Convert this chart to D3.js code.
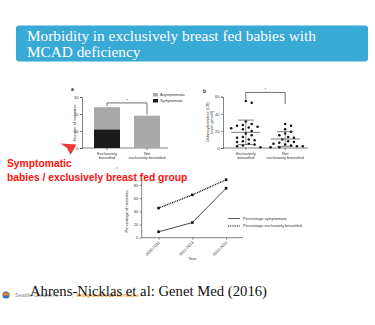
<!DOCTYPE html>
<html>
<head>
<meta charset="utf-8">
<script src="https://cdn.jsdelivr.net/npm/d3@7"></script>
<style>
  html, body { margin: 0; padding: 0; background: #fff; }
  svg { display: block; }
  .tiny { font-family: "Liberation Sans", Arial, sans-serif; font-size: 4px; fill: #333; }
</style>
</head>
<body>
<svg id="slide" width="375" height="325"></svg>
<script>
// Panel a: number of neonates by feeding group
const feedGroups = ["Exclusively breastfed", "Not exclusively breastfed"];
const symptomatic = [11, 0];
const asymptomatic = [13, 19];

// Panel b: C8 levels per neonate
const c8Exclusive = [55, 53, 31, 28, 27, 26, 25, 24, 23, 22, 20, 17, 15, 13, 12, 10, 9, 8, 7, 5, 4, 3, 2, 1];
const c8NotExclusive = [28, 26, 22, 19, 17, 15, 13, 12, 10, 8, 7, 6, 5, 4, 3, 2, 2, 1, 1];

// Panel c: percentages by period
const periods = ["2010-2011", "2012-2013", "2014-2015"];
const pctSymptomatic = [9, 23, 75];
const pctExclusive = [45, 65, 88];

const ticksA = [0, 10, 20, 30];
const ticksB = [0, 20, 40, 60];
const ticksC = [0, 20, 40, 60, 80];

const svg = d3.select("#slide");

// ---------- Header ----------
svg.append("rect").attr("x", 16).attr("y", 25.5).attr("width", 352).attr("height", 36)
  .attr("rx", 3).attr("fill", "#39a9d5");
const title = svg.append("text").attr("font-family", "Liberation Serif, Times New Roman, serif")
  .attr("font-size", 15.3).attr("fill", "#fff");
title.append("tspan").attr("x", 27).attr("y", 41).text("Morbidity in exclusively breast fed babies with");
title.append("tspan").attr("x", 27).attr("y", 57).text("MCAD deficiency");

function splitLabel(g, x, y, lines) {
  const t = g.append("text").attr("class", "tiny").attr("text-anchor", "middle");
  lines.forEach((l, i) => t.append("tspan").attr("x", x).attr("y", y + i * 4.3).text(l));
}
function styleAxis(g) {
  g.selectAll("path, line").attr("stroke", "#333").attr("stroke-width", 0.6);
  g.selectAll("text").attr("class", "tiny");
}

// ---------- Panel a: stacked bars ----------
const gA = svg.append("g");
const yA = d3.scaleLinear().domain([0, 30]).range([148, 97]);
const xA = d3.scaleBand().domain(feedGroups).range([82, 172]).paddingInner(0.35).paddingOuter(0.3);

gA.append("g").attr("transform", "translate(82,0)")
  .call(d3.axisLeft(yA).tickValues(ticksA).tickSize(2).tickPadding(1.5)).call(styleAxis);
gA.append("line").attr("x1", 82).attr("x2", 168).attr("y1", 148).attr("y2", 148)
  .attr("stroke", "#333").attr("stroke-width", 0.6);
feedGroups.forEach(g => gA.append("line").attr("x1", xA(g) + xA.bandwidth() / 2).attr("x2", xA(g) + xA.bandwidth() / 2)
  .attr("y1", 148).attr("y2", 150).attr("stroke", "#333").attr("stroke-width", 0.6));

const stackData = feedGroups.map((g, i) => ({ group: g, Symptomatic: symptomatic[i], Asymptomatic: asymptomatic[i] }));
const stacked = d3.stack().keys(["Symptomatic", "Asymptomatic"])(stackData);
const barColor = { Symptomatic: "#1b1b1b", Asymptomatic: "#a9a9a9" };
gA.selectAll("g.layer").data(stacked).join("g").attr("fill", d => barColor[d.key])
  .selectAll("rect").data(d => d).join("rect")
  .attr("x", d => xA(d.data.group)).attr("width", xA.bandwidth())
  .attr("y", d => yA(d[1])).attr("height", d => yA(d[0]) - yA(d[1]));

splitLabel(gA, xA(feedGroups[0]) + xA.bandwidth() / 2, 155, ["Exclusively", "breastfed"]);
splitLabel(gA, xA(feedGroups[1]) + xA.bandwidth() / 2, 155, ["Not", "exclusively breastfed"]);
gA.append("text").attr("class", "tiny").attr("text-anchor", "middle")
  .attr("transform", `translate(75.5,${yA(15)}) rotate(-90)`).text("Number of neonates");
gA.append("text").attr("x", 71).attr("y", 91).attr("font-family", "Liberation Sans, Arial")
  .attr("font-size", 5).attr("font-weight", "bold").attr("fill", "#222").text("a");

// significance bracket
const totals = feedGroups.map((g, i) => symptomatic[i] + asymptomatic[i]);
const bx1 = xA(feedGroups[0]) + xA.bandwidth() / 2, bx2 = xA(feedGroups[1]) + xA.bandwidth() / 2;
gA.append("path").attr("fill", "none").attr("stroke", "#333").attr("stroke-width", 0.7)
  .attr("d", `M${bx1},${yA(totals[0]) - 1}V${yA(26.5)}H${bx2}V${yA(totals[1]) - 1}`);
gA.append("text").attr("class", "tiny").attr("text-anchor", "middle").attr("x", (bx1 + bx2) / 2).attr("y", yA(27.3)).text("*");

// legend
[["Asymptomatic", 95], ["Symptomatic", 101]].forEach(([k, y]) => {
  gA.append("rect").attr("x", 153).attr("y", y - 2).attr("width", 5).attr("height", 3.5).attr("fill", barColor[k]);
  gA.append("text").attr("class", "tiny").attr("x", 160).attr("y", y + 1).text(k);
});

// ---------- Panel b: scatter with mean and SD ----------
const gB = svg.append("g");
const yB = d3.scaleLinear().domain([0, 60]).range([148, 96.7]);
const xB = d3.scalePoint().domain(feedGroups).range([223, 308]).padding(0.58);

gB.append("g").attr("transform", "translate(223,0)")
  .call(d3.axisLeft(yB).tickValues(ticksB).tickSize(2).tickPadding(1.5)).call(styleAxis);
gB.append("line").attr("x1", 223).attr("x2", 308).attr("y1", 148).attr("y2", 148)
  .attr("stroke", "#333").attr("stroke-width", 0.6);
feedGroups.forEach(g => gB.append("line").attr("x1", xB(g)).attr("x2", xB(g))
  .attr("y1", 148).attr("y2", 150).attr("stroke", "#333").attr("stroke-width", 0.6));

// simple deterministic beeswarm
function swarm(values, cx, r, gap) {
  const placed = [];
  const minD = 2 * r + gap;
  values.slice().sort((a, b) => b - a).forEach(v => {
    const cy = yB(v);
    for (let k = 0; k < 40; k++) {
      const off = (k % 2 ? 1 : -1) * Math.ceil(k / 2) * minD * 0.75;
      const x = cx + off;
      if (placed.every(p => Math.hypot(p.x - x, p.y - cy) >= minD)) { placed.push({ x, y: cy }); break; }
    }
  });
  return placed;
}
const groupsB = [c8Exclusive, c8NotExclusive];
groupsB.forEach((vals, i) => {
  const cx = xB(feedGroups[i]);
  gB.selectAll(null).data(swarm(vals, cx, 1.25, 1.4)).join("circle")
    .attr("cx", d => d.x).attr("cy", d => d.y).attr("r", 1.25).attr("fill", "#111");
  const m = d3.mean(vals), s = d3.deviation(vals);
  gB.append("line").attr("x1", cx - 14.5).attr("x2", cx + 14.5).attr("y1", yB(m)).attr("y2", yB(m))
    .attr("stroke", "#444").attr("stroke-width", 0.7);
  gB.append("line").attr("x1", cx).attr("x2", cx).attr("y1", yB(m + s)).attr("y2", yB(Math.max(0, m - s)))
    .attr("stroke", "#444").attr("stroke-width", 0.6);
  [m + s, Math.max(0, m - s)].forEach(v => gB.append("line").attr("x1", cx - 8).attr("x2", cx + 8)
    .attr("y1", yB(v)).attr("y2", yB(v)).attr("stroke", "#444").attr("stroke-width", 0.7));
});
splitLabel(gB, xB(feedGroups[0]), 155, ["Exclusively", "breastfed"]);
splitLabel(gB, xB(feedGroups[1]), 155, ["Not", "exclusively breastfed"]);
const yl = gB.append("text").attr("class", "tiny").attr("text-anchor", "middle")
  .attr("transform", `translate(209,${yB(30)}) rotate(-90)`);
yl.append("tspan").attr("x", 0).attr("y", 0).text("Octanoylcarnitine (C8)");
yl.append("tspan").attr("x", 0).attr("y", 4.3).text("level (µmol/l)");
gB.append("text").attr("x", 203).attr("y", 93).attr("font-family", "Liberation Sans, Arial")
  .attr("font-size", 5).attr("font-weight", "bold").attr("fill", "#222").text("b");
const cxb1 = xB(feedGroups[0]), cxb2 = xB(feedGroups[1]);
gB.append("path").attr("fill", "none").attr("stroke", "#333").attr("stroke-width", 0.7)
  .attr("d", `M${cxb1},${yB(d3.max(c8Exclusive)) - 2}V${yB(65)}H${cxb2}V${yB(d3.max(c8NotExclusive)) - 20}`);
gB.append("text").attr("class", "tiny").attr("text-anchor", "middle").attr("x", (cxb1 + cxb2) / 2).attr("y", yB(66.5)).text("*");

// ---------- Panel c: trends ----------
const gC = svg.append("g");
const yC = d3.scaleLinear().domain([0, 80]).range([237.7, 185]);
const xC = d3.scalePoint().domain(periods).range([141.7, 243]).padding(0.5);

gC.append("g").attr("transform", "translate(141.7,0)")
  .call(d3.axisLeft(yC).tickValues(ticksC).tickSize(2).tickPadding(1.5)).call(styleAxis);
gC.select("g .domain").remove();
gC.append("line").attr("x1", 141.7).attr("x2", 141.7).attr("y1", yC(0)).attr("y2", yC(88))
  .attr("stroke", "#333").attr("stroke-width", 0.6);
const axC = gC.append("g").attr("transform", `translate(0,${yC(0)})`)
  .call(d3.axisBottom(xC).tickSize(2).tickPadding(1)).call(styleAxis);
axC.select(".domain").attr("d", "M141.7,0H243");
axC.selectAll("text").attr("text-anchor", "end").attr("dy", 0)
  .attr("transform", "translate(-1,3) rotate(-45)");

const lineC = d3.line().x((d, i) => xC(periods[i])).y(d => yC(d));
gC.append("path").datum(pctSymptomatic).attr("d", lineC).attr("fill", "none")
  .attr("stroke", "#333").attr("stroke-width", 0.9);
gC.append("path").datum(pctExclusive).attr("d", lineC).attr("fill", "none")
  .attr("stroke", "#111").attr("stroke-width", 1.3).attr("stroke-dasharray", "1,0.8");
[pctSymptomatic, pctExclusive].forEach(series => {
  gC.selectAll(null).data(series).join("rect")
    .attr("x", (d, i) => xC(periods[i]) - 1.3).attr("y", d => yC(d) - 1.3)
    .attr("width", 2.6).attr("height", 2.6).attr("fill", "#111");
});
gC.append("text").attr("class", "tiny").attr("text-anchor", "middle")
  .attr("x", (141.7 + 243) / 2).attr("y", 260).text("Year");
gC.append("text").attr("class", "tiny").attr("text-anchor", "middle")
  .attr("transform", `translate(127.5,${yC(40)}) rotate(-90)`).text("Percentage of neonates");
gC.append("text").attr("x", 116).attr("y", 169).attr("font-family", "Liberation Sans, Arial")
  .attr("font-size", 4).attr("fill", "#555").text("c");
// legend
gC.append("line").attr("x1", 228).attr("x2", 240).attr("y1", 218.5).attr("y2", 218.5)
  .attr("stroke", "#333").attr("stroke-width", 0.8);
gC.append("line").attr("x1", 228).attr("x2", 240).attr("y1", 226).attr("y2", 226)
  .attr("stroke", "#111").attr("stroke-width", 1.2).attr("stroke-dasharray", "1,0.8");
gC.append("text").attr("class", "tiny").attr("x", 243).attr("y", 219.8).text("Percentage symptomatic");
gC.append("text").attr("class", "tiny").attr("x", 243).attr("y", 227.3).text("Percentage exclusively breastfed");

// ---------- Annotation ----------
svg.append("path").attr("fill", "#f03a3a")
  .attr("d", "M60.5,143.5L76.5,144.5L70.5,155L67,148Z");
const note = svg.append("text").attr("font-family", "Liberation Sans, Arial, sans-serif")
  .attr("font-weight", "bold").attr("font-size", 10.3).attr("fill", "#ff1010");
note.append("tspan").attr("x", 7).attr("y", 167).text("Symptomatic");
note.append("tspan").attr("x", 7).attr("y", 180.5).text("babies / exclusively breast fed group");

// ---------- Footer ----------
svg.append("circle").attr("cx", 6).attr("cy", 295).attr("r", 3.6).attr("fill", "#2f6fb3");
svg.append("path").attr("d", "M3,295.5A3,3 0 0,1 9,295.5Z").attr("fill", "#f08a24");
svg.append("text").attr("x", 15).attr("y", 297).attr("font-family", "Liberation Sans, Arial")
  .attr("font-size", 5.5).attr("fill", "#888").text("Seattle Children's");
svg.append("text").attr("x", 72).attr("y", 297).attr("font-family", "Liberation Sans, Arial")
  .attr("font-size", 5.5).attr("fill", "#bbb").text("|");
svg.append("text").attr("x", 77).attr("y", 297).attr("font-family", "Liberation Sans, Arial")
  .attr("font-size", 5.5).attr("font-weight", "bold").attr("fill", "#f0a030").text("Integrated Lab Services");
svg.append("text").attr("x", 30).attr("y", 296).attr("font-family", "Liberation Serif, Times New Roman, serif")
  .attr("font-size", 14.7).attr("fill", "#111").text("Ahrens-Nicklas et al: Genet Med (2016)");
</script>
</body>
</html>
